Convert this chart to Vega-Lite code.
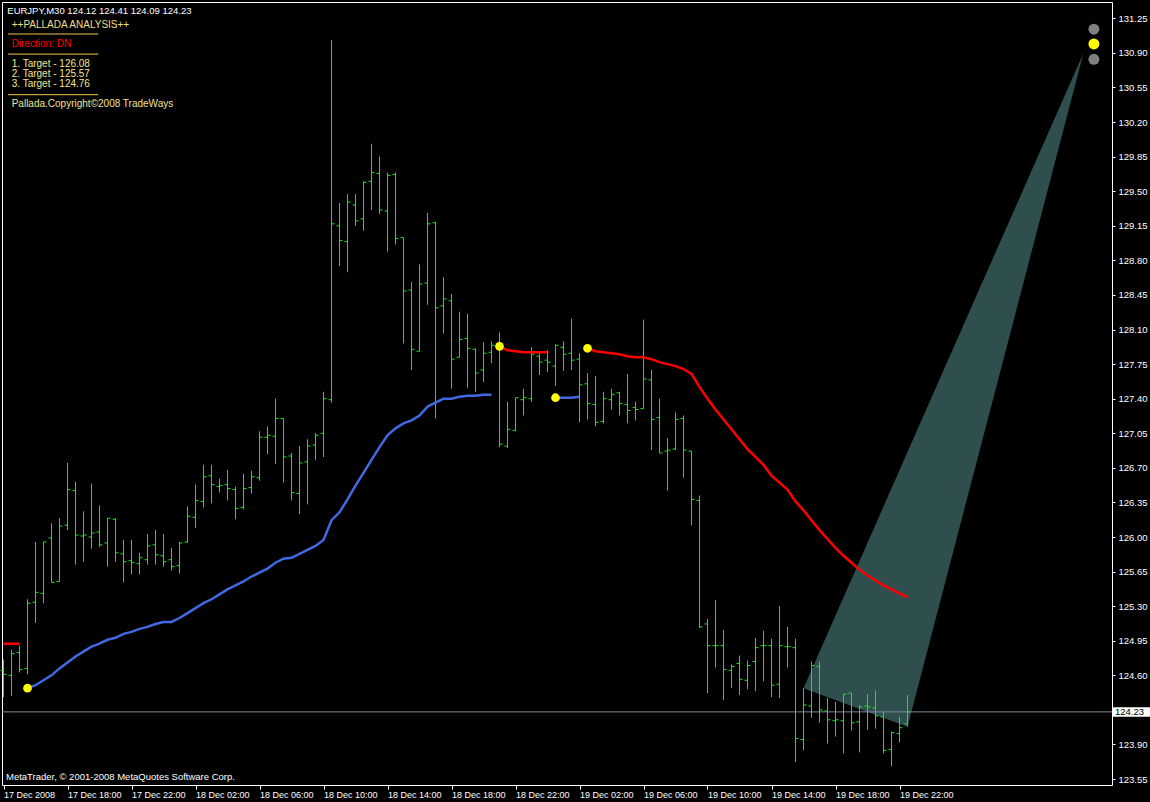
{
  "$schema": "https://vega.github.io/schema/vega-lite/v6.json",
  "width": 1110,
  "height": 783,
  "autosize": {"type": "none"},
  "padding": {"left": 2, "top": 2, "right": 38, "bottom": 17},
  "background": "#000000",
  "config": {
    "view": {"stroke": "#ffffff", "strokeWidth": 1, "fill": "#000000"},
    "font": "Liberation Sans",
    "axis": {"labelOverlap": false, "labelFlush": false, "labelBound": false, "grid": false, "domain": false, "labelColor": "#ffffff", "tickColor": "#ffffff", "labelFont": "Liberation Sans", "labelFontSize": 9.5, "title": null}
  },
  "resolve": {"scale": {"color": "independent"}},
  "datasets": {
    "bars": [
      {"bar":0,"open":124.65,"high":124.76,"low":124.38,"close":124.61},
      {"bar":1,"open":124.60,"high":124.86,"low":124.39,"close":124.82},
      {"bar":2,"open":124.83,"high":124.90,"low":124.63,"close":124.66},
      {"bar":3,"open":124.67,"high":125.37,"low":124.61,"close":125.33},
      {"bar":4,"open":125.34,"high":125.95,"low":125.13,"close":125.44},
      {"bar":5,"open":125.43,"high":125.95,"low":125.33,"close":125.95},
      {"bar":6,"open":125.99,"high":126.14,"low":125.54,"close":125.54},
      {"bar":7,"open":125.55,"high":126.19,"low":125.55,"close":126.11},
      {"bar":8,"open":126.12,"high":126.75,"low":126.07,"close":126.48},
      {"bar":9,"open":126.47,"high":126.56,"low":125.72,"close":126.02},
      {"bar":10,"open":126.01,"high":126.26,"low":125.75,"close":126.02},
      {"bar":11,"open":126.00,"high":126.54,"low":125.88,"close":126.04},
      {"bar":12,"open":126.05,"high":126.32,"low":125.90,"close":125.92},
      {"bar":13,"open":125.94,"high":126.19,"low":125.70,"close":126.19},
      {"bar":14,"open":126.18,"high":126.19,"low":125.75,"close":125.84},
      {"bar":15,"open":125.83,"high":125.97,"low":125.54,"close":125.75},
      {"bar":16,"open":125.76,"high":125.97,"low":125.62,"close":125.74},
      {"bar":17,"open":125.73,"high":125.84,"low":125.62,"close":125.79},
      {"bar":18,"open":125.77,"high":126.03,"low":125.72,"close":125.91},
      {"bar":19,"open":125.92,"high":126.07,"low":125.72,"close":125.82},
      {"bar":20,"open":125.81,"high":126.03,"low":125.70,"close":125.75},
      {"bar":21,"open":125.77,"high":125.89,"low":125.66,"close":125.70},
      {"bar":22,"open":125.71,"high":125.95,"low":125.63,"close":125.94},
      {"bar":23,"open":125.95,"high":126.31,"low":125.94,"close":126.21},
      {"bar":24,"open":126.20,"high":126.53,"low":126.09,"close":126.37},
      {"bar":25,"open":126.36,"high":126.73,"low":126.30,"close":126.61},
      {"bar":26,"open":126.62,"high":126.73,"low":126.34,"close":126.53},
      {"bar":27,"open":126.51,"high":126.59,"low":126.45,"close":126.52},
      {"bar":28,"open":126.53,"high":126.68,"low":126.37,"close":126.49},
      {"bar":29,"open":126.48,"high":126.51,"low":126.18,"close":126.29},
      {"bar":30,"open":126.30,"high":126.64,"low":126.28,"close":126.49},
      {"bar":31,"open":126.50,"high":126.67,"low":126.44,"close":126.61},
      {"bar":32,"open":126.60,"high":127.07,"low":126.57,"close":127.01},
      {"bar":33,"open":127.01,"high":127.12,"low":126.84,"close":127.03},
      {"bar":34,"open":127.02,"high":127.40,"low":126.74,"close":127.20},
      {"bar":35,"open":127.20,"high":127.20,"low":126.55,"close":126.81},
      {"bar":36,"open":126.82,"high":126.85,"low":126.37,"close":126.45},
      {"bar":37,"open":126.44,"high":126.92,"low":126.23,"close":126.75},
      {"bar":38,"open":126.76,"high":126.99,"low":126.33,"close":126.92},
      {"bar":39,"open":126.93,"high":127.05,"low":126.78,"close":127.03},
      {"bar":40,"open":127.05,"high":127.47,"low":126.81,"close":127.40},
      {"bar":41,"open":127.39,"high":131.03,"low":127.36,"close":129.17},
      {"bar":42,"open":129.15,"high":129.38,"low":128.74,"close":129.00},
      {"bar":43,"open":128.99,"high":129.47,"low":128.68,"close":129.39},
      {"bar":44,"open":129.36,"high":129.47,"low":129.15,"close":129.20},
      {"bar":45,"open":129.22,"high":129.60,"low":129.10,"close":129.59},
      {"bar":46,"open":129.60,"high":129.98,"low":129.31,"close":129.69},
      {"bar":47,"open":129.68,"high":129.85,"low":129.27,"close":129.31},
      {"bar":48,"open":129.30,"high":129.69,"low":128.89,"close":129.66},
      {"bar":49,"open":129.67,"high":129.69,"low":128.96,"close":129.02},
      {"bar":50,"open":129.03,"high":129.03,"low":127.96,"close":128.49},
      {"bar":51,"open":128.50,"high":128.58,"low":127.69,"close":127.90},
      {"bar":52,"open":127.88,"high":128.76,"low":127.88,"close":128.56},
      {"bar":53,"open":128.57,"high":129.28,"low":128.35,"close":129.17},
      {"bar":54,"open":129.18,"high":129.19,"low":127.20,"close":128.32},
      {"bar":55,"open":128.34,"high":128.63,"low":128.06,"close":128.41},
      {"bar":56,"open":128.39,"high":128.46,"low":127.50,"close":127.80},
      {"bar":57,"open":127.82,"high":128.28,"low":127.82,"close":128.00},
      {"bar":58,"open":128.01,"high":128.26,"low":127.51,"close":127.91},
      {"bar":59,"open":127.90,"high":127.91,"low":127.47,"close":127.66},
      {"bar":60,"open":127.69,"high":127.97,"low":127.57,"close":127.86},
      {"bar":61,"open":127.87,"high":127.98,"low":127.76,"close":127.94},
      {"bar":62,"open":127.94,"high":128.07,"low":126.91,"close":126.94},
      {"bar":63,"open":126.92,"high":127.37,"low":126.90,"close":127.09},
      {"bar":64,"open":127.08,"high":127.41,"low":127.07,"close":127.41},
      {"bar":65,"open":127.39,"high":127.50,"low":127.23,"close":127.41},
      {"bar":66,"open":127.40,"high":127.92,"low":127.37,"close":127.85},
      {"bar":67,"open":127.83,"high":127.86,"low":127.64,"close":127.77},
      {"bar":68,"open":127.79,"high":127.89,"low":127.67,"close":127.77},
      {"bar":69,"open":127.73,"high":127.95,"low":127.53,"close":127.94},
      {"bar":70,"open":127.92,"high":127.98,"low":127.68,"close":127.85},
      {"bar":71,"open":127.86,"high":128.21,"low":127.69,"close":127.79},
      {"bar":72,"open":127.80,"high":127.86,"low":127.16,"close":127.54},
      {"bar":73,"open":127.55,"high":127.66,"low":127.19,"close":127.35},
      {"bar":74,"open":127.34,"high":127.63,"low":127.12,"close":127.16},
      {"bar":75,"open":127.17,"high":127.47,"low":127.15,"close":127.40},
      {"bar":76,"open":127.39,"high":127.50,"low":127.29,"close":127.44},
      {"bar":77,"open":127.46,"high":127.47,"low":127.23,"close":127.35},
      {"bar":78,"open":127.34,"high":127.65,"low":127.15,"close":127.28},
      {"bar":79,"open":127.31,"high":127.37,"low":127.18,"close":127.29},
      {"bar":80,"open":127.30,"high":128.20,"low":127.30,"close":127.60},
      {"bar":81,"open":127.59,"high":127.69,"low":126.88,"close":127.19},
      {"bar":82,"open":127.21,"high":127.40,"low":126.85,"close":126.85},
      {"bar":83,"open":126.87,"high":127.00,"low":126.47,"close":126.88},
      {"bar":84,"open":126.89,"high":127.26,"low":126.88,"close":127.19},
      {"bar":85,"open":127.20,"high":127.23,"low":126.60,"close":126.88},
      {"bar":86,"open":126.87,"high":126.87,"low":126.12,"close":126.38},
      {"bar":87,"open":126.37,"high":126.42,"low":125.08,"close":125.09},
      {"bar":88,"open":125.12,"high":125.17,"low":124.42,"close":124.90},
      {"bar":89,"open":124.90,"high":125.36,"low":124.68,"close":124.90},
      {"bar":90,"open":124.90,"high":125.06,"low":124.35,"close":124.66},
      {"bar":91,"open":124.65,"high":124.71,"low":124.47,"close":124.69},
      {"bar":92,"open":124.72,"high":124.80,"low":124.40,"close":124.56},
      {"bar":93,"open":124.55,"high":124.75,"low":124.46,"close":124.70},
      {"bar":94,"open":124.74,"high":124.98,"low":124.44,"close":124.88},
      {"bar":95,"open":124.90,"high":125.05,"low":124.54,"close":124.90},
      {"bar":96,"open":124.90,"high":124.97,"low":124.38,"close":124.50},
      {"bar":97,"open":124.51,"high":125.30,"low":124.37,"close":124.90},
      {"bar":98,"open":124.89,"high":125.09,"low":124.68,"close":124.89},
      {"bar":99,"open":124.88,"high":124.97,"low":123.72,"close":123.96},
      {"bar":100,"open":123.95,"high":124.47,"low":123.84,"close":124.30},
      {"bar":101,"open":124.29,"high":124.74,"low":124.17,"close":124.70},
      {"bar":102,"open":124.69,"high":124.74,"low":124.12,"close":124.25},
      {"bar":103,"open":124.24,"high":124.37,"low":123.91,"close":124.15},
      {"bar":104,"open":124.14,"high":124.33,"low":123.98,"close":124.15},
      {"bar":105,"open":124.14,"high":124.41,"low":123.81,"close":124.41},
      {"bar":106,"open":124.42,"high":124.42,"low":124.04,"close":124.12},
      {"bar":107,"open":124.13,"high":124.30,"low":123.82,"close":124.28},
      {"bar":108,"open":124.29,"high":124.41,"low":124.05,"close":124.28},
      {"bar":109,"open":124.27,"high":124.45,"low":124.06,"close":124.19},
      {"bar":110,"open":124.18,"high":124.23,"low":123.81,"close":123.84},
      {"bar":111,"open":123.85,"high":124.03,"low":123.68,"close":124.02},
      {"bar":112,"open":124.01,"high":124.18,"low":123.92,"close":124.07},
      {"bar":113,"open":124.11,"high":124.40,"low":124.08,"close":124.23}
    ],
    "ma": [
      {"bar":0,"value":124.92,"seg":0,"dir":"dn"},
      {"bar":1,"value":124.92,"seg":0,"dir":"dn"},
      {"bar":2,"value":124.92,"seg":0,"dir":"dn"},
      {"bar":3,"value":124.47,"seg":1,"dir":"up"},
      {"bar":4,"value":124.50,"seg":1,"dir":"up"},
      {"bar":5,"value":124.55,"seg":1,"dir":"up"},
      {"bar":6,"value":124.60,"seg":1,"dir":"up"},
      {"bar":7,"value":124.67,"seg":1,"dir":"up"},
      {"bar":8,"value":124.73,"seg":1,"dir":"up"},
      {"bar":9,"value":124.79,"seg":1,"dir":"up"},
      {"bar":10,"value":124.84,"seg":1,"dir":"up"},
      {"bar":11,"value":124.89,"seg":1,"dir":"up"},
      {"bar":12,"value":124.92,"seg":1,"dir":"up"},
      {"bar":13,"value":124.96,"seg":1,"dir":"up"},
      {"bar":14,"value":124.98,"seg":1,"dir":"up"},
      {"bar":15,"value":125.02,"seg":1,"dir":"up"},
      {"bar":16,"value":125.04,"seg":1,"dir":"up"},
      {"bar":17,"value":125.07,"seg":1,"dir":"up"},
      {"bar":18,"value":125.09,"seg":1,"dir":"up"},
      {"bar":19,"value":125.12,"seg":1,"dir":"up"},
      {"bar":20,"value":125.14,"seg":1,"dir":"up"},
      {"bar":21,"value":125.14,"seg":1,"dir":"up"},
      {"bar":22,"value":125.18,"seg":1,"dir":"up"},
      {"bar":23,"value":125.23,"seg":1,"dir":"up"},
      {"bar":24,"value":125.28,"seg":1,"dir":"up"},
      {"bar":25,"value":125.33,"seg":1,"dir":"up"},
      {"bar":26,"value":125.37,"seg":1,"dir":"up"},
      {"bar":27,"value":125.42,"seg":1,"dir":"up"},
      {"bar":28,"value":125.47,"seg":1,"dir":"up"},
      {"bar":29,"value":125.51,"seg":1,"dir":"up"},
      {"bar":30,"value":125.55,"seg":1,"dir":"up"},
      {"bar":31,"value":125.60,"seg":1,"dir":"up"},
      {"bar":32,"value":125.64,"seg":1,"dir":"up"},
      {"bar":33,"value":125.68,"seg":1,"dir":"up"},
      {"bar":34,"value":125.74,"seg":1,"dir":"up"},
      {"bar":35,"value":125.78,"seg":1,"dir":"up"},
      {"bar":36,"value":125.79,"seg":1,"dir":"up"},
      {"bar":37,"value":125.83,"seg":1,"dir":"up"},
      {"bar":38,"value":125.87,"seg":1,"dir":"up"},
      {"bar":39,"value":125.91,"seg":1,"dir":"up"},
      {"bar":40,"value":125.97,"seg":1,"dir":"up"},
      {"bar":41,"value":126.17,"seg":1,"dir":"up"},
      {"bar":42,"value":126.25,"seg":1,"dir":"up"},
      {"bar":43,"value":126.38,"seg":1,"dir":"up"},
      {"bar":44,"value":126.52,"seg":1,"dir":"up"},
      {"bar":45,"value":126.65,"seg":1,"dir":"up"},
      {"bar":46,"value":126.78,"seg":1,"dir":"up"},
      {"bar":47,"value":126.91,"seg":1,"dir":"up"},
      {"bar":48,"value":127.03,"seg":1,"dir":"up"},
      {"bar":49,"value":127.10,"seg":1,"dir":"up"},
      {"bar":50,"value":127.15,"seg":1,"dir":"up"},
      {"bar":51,"value":127.18,"seg":1,"dir":"up"},
      {"bar":52,"value":127.23,"seg":1,"dir":"up"},
      {"bar":53,"value":127.32,"seg":1,"dir":"up"},
      {"bar":54,"value":127.36,"seg":1,"dir":"up"},
      {"bar":55,"value":127.40,"seg":1,"dir":"up"},
      {"bar":56,"value":127.40,"seg":1,"dir":"up"},
      {"bar":57,"value":127.42,"seg":1,"dir":"up"},
      {"bar":58,"value":127.43,"seg":1,"dir":"up"},
      {"bar":59,"value":127.43,"seg":1,"dir":"up"},
      {"bar":60,"value":127.44,"seg":1,"dir":"up"},
      {"bar":61,"value":127.44,"seg":1,"dir":"up"},
      {"bar":62,"value":127.93,"seg":2,"dir":"dn"},
      {"bar":63,"value":127.89,"seg":2,"dir":"dn"},
      {"bar":64,"value":127.88,"seg":2,"dir":"dn"},
      {"bar":65,"value":127.87,"seg":2,"dir":"dn"},
      {"bar":66,"value":127.87,"seg":2,"dir":"dn"},
      {"bar":67,"value":127.87,"seg":2,"dir":"dn"},
      {"bar":68,"value":127.87,"seg":2,"dir":"dn"},
      {"bar":69,"value":127.41,"seg":3,"dir":"up"},
      {"bar":70,"value":127.41,"seg":3,"dir":"up"},
      {"bar":71,"value":127.41,"seg":3,"dir":"up"},
      {"bar":72,"value":127.42,"seg":3,"dir":"up"},
      {"bar":73,"value":127.91,"seg":4,"dir":"dn"},
      {"bar":74,"value":127.88,"seg":4,"dir":"dn"},
      {"bar":75,"value":127.87,"seg":4,"dir":"dn"},
      {"bar":76,"value":127.86,"seg":4,"dir":"dn"},
      {"bar":77,"value":127.85,"seg":4,"dir":"dn"},
      {"bar":78,"value":127.83,"seg":4,"dir":"dn"},
      {"bar":79,"value":127.82,"seg":4,"dir":"dn"},
      {"bar":80,"value":127.82,"seg":4,"dir":"dn"},
      {"bar":81,"value":127.80,"seg":4,"dir":"dn"},
      {"bar":82,"value":127.77,"seg":4,"dir":"dn"},
      {"bar":83,"value":127.75,"seg":4,"dir":"dn"},
      {"bar":84,"value":127.73,"seg":4,"dir":"dn"},
      {"bar":85,"value":127.70,"seg":4,"dir":"dn"},
      {"bar":86,"value":127.65,"seg":4,"dir":"dn"},
      {"bar":87,"value":127.52,"seg":4,"dir":"dn"},
      {"bar":88,"value":127.40,"seg":4,"dir":"dn"},
      {"bar":89,"value":127.29,"seg":4,"dir":"dn"},
      {"bar":90,"value":127.19,"seg":4,"dir":"dn"},
      {"bar":91,"value":127.09,"seg":4,"dir":"dn"},
      {"bar":92,"value":126.99,"seg":4,"dir":"dn"},
      {"bar":93,"value":126.89,"seg":4,"dir":"dn"},
      {"bar":94,"value":126.81,"seg":4,"dir":"dn"},
      {"bar":95,"value":126.73,"seg":4,"dir":"dn"},
      {"bar":96,"value":126.62,"seg":4,"dir":"dn"},
      {"bar":97,"value":126.55,"seg":4,"dir":"dn"},
      {"bar":98,"value":126.48,"seg":4,"dir":"dn"},
      {"bar":99,"value":126.36,"seg":4,"dir":"dn"},
      {"bar":100,"value":126.27,"seg":4,"dir":"dn"},
      {"bar":101,"value":126.17,"seg":4,"dir":"dn"},
      {"bar":102,"value":126.07,"seg":4,"dir":"dn"},
      {"bar":103,"value":125.98,"seg":4,"dir":"dn"},
      {"bar":104,"value":125.89,"seg":4,"dir":"dn"},
      {"bar":105,"value":125.81,"seg":4,"dir":"dn"},
      {"bar":106,"value":125.74,"seg":4,"dir":"dn"},
      {"bar":107,"value":125.67,"seg":4,"dir":"dn"},
      {"bar":108,"value":125.61,"seg":4,"dir":"dn"},
      {"bar":109,"value":125.56,"seg":4,"dir":"dn"},
      {"bar":110,"value":125.51,"seg":4,"dir":"dn"},
      {"bar":111,"value":125.47,"seg":4,"dir":"dn"},
      {"bar":112,"value":125.43,"seg":4,"dir":"dn"},
      {"bar":113,"value":125.39,"seg":4,"dir":"dn"}
    ],
    "signals": [
      {"bar":3,"price":124.47},
      {"bar":62,"price":127.93},
      {"bar":69,"price":127.41},
      {"bar":73,"price":127.91}
    ],
    "lights": [
      {"bar":136.3,"price":131.14,"state":"off"},
      {"bar":136.3,"price":130.99,"state":"on"},
      {"bar":136.3,"price":130.835,"state":"off"}
    ],
    "cone": [
      {"bar":100,"upper":124.47,"lower":124.47},
      {"bar":113,"upper":126.86,"lower":124.08},
      {"bar":135,"upper":130.90,"lower":130.90}
    ],
    "info": [
      {"bar":1.025,"price":131.182,"text":"++PALLADA ANALYSIS++","kind":"title"},
      {"bar":1.025,"price":130.987,"text":"Direction: DN","kind":"direction"},
      {"bar":1.025,"price":130.784,"text":"1. Target - 126.08","kind":"target"},
      {"bar":1.025,"price":130.686,"text":"2. Target - 125.57","kind":"target"},
      {"bar":1.025,"price":130.582,"text":"3. Target - 124.76","kind":"target"},
      {"bar":1.025,"price":130.380,"text":"Pallada.Copyright©2008 TradeWays","kind":"copyright"}
    ],
    "separators": [
      {"bar":0.5625,"bar2":11.85,"price":131.091},
      {"bar":0.5625,"bar2":11.85,"price":130.888},
      {"bar":0.5625,"bar2":11.85,"price":130.477}
    ],
    "plain": [
      {"bar":0.475,"price":131.324,"text":"EURJPY,M30  124.12 124.41 124.09 124.23"},
      {"bar":0.31,"price":123.57,"text":"MetaTrader, © 2001-2008 MetaQuotes Software Corp."}
    ],
    "last": [
      {"bar":138.69,"bar2":143.4,"price":124.23,"top":124.278,"bottom":124.182,"text":"124.23"}
    ]
  },
  "layer": [
    {
      "data": {"name": "cone"},
      "mark": {"type": "area", "color": "#2f4f4f", "opacity": 1, "interpolate": "linear"},
      "encoding": {
        "x": {"field": "bar", "type": "quantitative",
          "scale": {"domain": [-0.1875, 138.5625], "nice": false, "zero": false},
          "axis": {
            "values": [0,8,16,24,32,40,48,56,64,72,80,88,96,104,112],
            "tickCount": 40,
            "labelExpr": "['17 Dec 2008','17 Dec 18:00','17 Dec 22:00','18 Dec 02:00','18 Dec 06:00','18 Dec 10:00','18 Dec 14:00','18 Dec 18:00','18 Dec 22:00','19 Dec 02:00','19 Dec 06:00','19 Dec 10:00','19 Dec 14:00','19 Dec 18:00','19 Dec 22:00'][round(datum.value/8)]",
            "labelAlign": "left", "labelBaseline": "top", "labelPadding": 1,
            "labelFontSize": 9, "tickSize": 4, "labelOverlap": false
          }
        },
        "y": {"field": "upper", "type": "quantitative",
          "scale": {"domain": [123.49, 131.415], "nice": false, "zero": false},
          "axis": {
            "orient": "right",
            "values": [123.55,123.9,124.6,124.95,125.3,125.65,126.0,126.35,126.7,127.05,127.4,127.75,128.1,128.45,128.8,129.15,129.5,129.85,130.2,130.55,130.9,131.25],
            "tickCount": 40,
            "format": ".2f", "labelPadding": 3, "tickSize": 3, "labelOverlap": false
          }
        },
        "y2": {"field": "lower"}
      }
    },
    {
      "data": {"name": "last"},
      "mark": {"type": "rule", "color": "#778899", "strokeWidth": 1},
      "encoding": {"y": {"field": "price", "type": "quantitative"}}
    },
    {
      "data": {"name": "bars"},
      "mark": {"type": "rule", "color": "#22e022", "strokeWidth": 1},
      "encoding": {
        "x": {"field": "bar", "type": "quantitative"},
        "y": {"field": "low", "type": "quantitative"},
        "y2": {"field": "high"}
      }
    },
    {
      "data": {"name": "bars"},
      "mark": {"type": "rule", "color": "#22e022", "strokeWidth": 1, "xOffset": -3, "x2Offset": 0},
      "encoding": {
        "x": {"field": "bar", "type": "quantitative"},
        "x2": {"field": "bar"},
        "y": {"field": "open", "type": "quantitative"}
      }
    },
    {
      "data": {"name": "bars"},
      "mark": {"type": "rule", "color": "#22e022", "strokeWidth": 1, "xOffset": 0, "x2Offset": 3},
      "encoding": {
        "x": {"field": "bar", "type": "quantitative"},
        "x2": {"field": "bar"},
        "y": {"field": "close", "type": "quantitative"}
      }
    },
    {
      "data": {"name": "ma"},
      "mark": {"type": "line", "strokeWidth": 2.5, "interpolate": "linear"},
      "encoding": {
        "x": {"field": "bar", "type": "quantitative"},
        "y": {"field": "value", "type": "quantitative"},
        "detail": {"field": "seg", "type": "nominal"},
        "color": {"field": "dir", "type": "nominal",
          "scale": {"domain": ["up", "dn"], "range": ["#4169e1", "#ff0000"]},
          "legend": null}
      }
    },
    {
      "data": {"name": "signals"},
      "mark": {"type": "point", "filled": true, "color": "#ffff00", "size": 75, "opacity": 1, "strokeWidth": 0},
      "encoding": {
        "x": {"field": "bar", "type": "quantitative"},
        "y": {"field": "price", "type": "quantitative"}
      }
    },
    {
      "data": {"name": "lights"},
      "mark": {"type": "point", "filled": true, "size": 120, "opacity": 1, "strokeWidth": 0},
      "encoding": {
        "x": {"field": "bar", "type": "quantitative"},
        "y": {"field": "price", "type": "quantitative"},
        "fill": {"field": "state", "type": "nominal",
          "scale": {"domain": ["on", "off"], "range": ["#ffff00", "#808080"]},
          "legend": null}
      }
    },
    {
      "data": {"name": "separators"},
      "mark": {"type": "rule", "color": "#f0c850", "strokeWidth": 1},
      "encoding": {
        "x": {"field": "bar", "type": "quantitative"},
        "x2": {"field": "bar2"},
        "y": {"field": "price", "type": "quantitative"}
      }
    },
    {
      "data": {"name": "info"},
      "mark": {"type": "text", "align": "left", "baseline": "middle", "font": "Liberation Sans", "fontSize": 10},
      "encoding": {
        "x": {"field": "bar", "type": "quantitative"},
        "y": {"field": "price", "type": "quantitative"},
        "text": {"field": "text"},
        "color": {"field": "kind", "type": "nominal",
          "scale": {"domain": ["title", "direction", "target", "copyright"], "range": ["#eedd82", "#ff0000", "#f0e68c", "#eee29a"]},
          "legend": null}
      }
    },
    {
      "data": {"name": "plain"},
      "mark": {"type": "text", "align": "left", "baseline": "middle", "font": "Liberation Sans", "fontSize": 9.5, "color": "#ffffff"},
      "encoding": {
        "x": {"field": "bar", "type": "quantitative"},
        "y": {"field": "price", "type": "quantitative"},
        "text": {"field": "text"}
      }
    },
    {
      "data": {"name": "last"},
      "mark": {"type": "rect", "color": "#ffffff"},
      "encoding": {
        "x": {"field": "bar", "type": "quantitative"},
        "x2": {"field": "bar2"},
        "y": {"field": "top", "type": "quantitative"},
        "y2": {"field": "bottom"}
      }
    },
    {
      "data": {"name": "last"},
      "mark": {"type": "text", "align": "left", "baseline": "middle", "font": "Liberation Sans", "fontSize": 9.5, "color": "#000000", "dx": 2},
      "encoding": {
        "x": {"field": "bar", "type": "quantitative"},
        "y": {"field": "price", "type": "quantitative"},
        "text": {"field": "text"}
      }
    }
  ]
}
